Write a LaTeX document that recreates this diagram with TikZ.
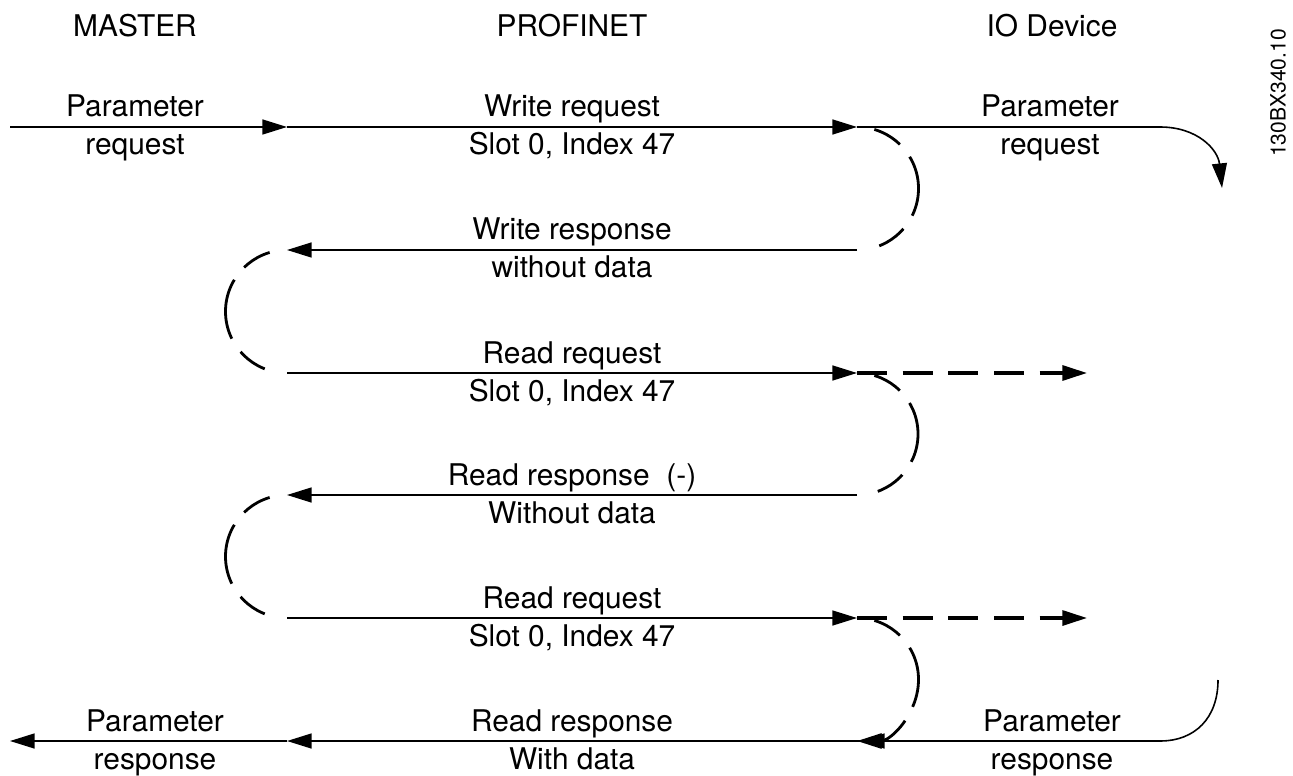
\documentclass[tikz,border=0pt]{standalone}
\usepackage{fontspec}
\setmainfont{TeX Gyre Heros}
\usetikzlibrary{arrows.meta}

\begin{document}
\begin{tikzpicture}[x=0.02cm, y=-0.02cm, >={Triangle[length=14pt,width=8.5pt]},
  msg/.style={line width=0.9pt, ->},
  turn/.style={line width=1.6pt, dash pattern=on 0pt off 10pt on 17pt off 9pt on 35pt off 9pt on 17pt off 10pt},
  fwd/.style={line width=1.8pt, dash pattern=on 17pt off 9pt, ->},
  txt/.style={font=\fontsize{17}{20}\selectfont, anchor=base, inner sep=0pt}]
\useasboundingbox (0,0) rectangle (1293,776);

\node[txt] (hm) at (135,37) {MASTER};
\node[txt] (hp) at (572,37) {PROFINET};
\node[txt] (hd) at (1052,37) {IO Device};
\node[font=\fontsize{12}{14}\selectfont, rotate=90, inner sep=0pt] (code) at (1278,93) {130BX340.10};

% end points of the messages
\coordinate (m1) at (10,127);  \coordinate (p1) at (287,127); \coordinate (d1) at (857,127);
\coordinate (io1) at (1222,188);
\coordinate (p2) at (287,250); \coordinate (d2) at (857,250);
\coordinate (p3) at (287,373); \coordinate (d3) at (857,373); \coordinate (x3) at (1087,373);
\coordinate (p4) at (287,495); \coordinate (d4) at (857,495);
\coordinate (p5) at (287,618); \coordinate (d5) at (857,618); \coordinate (x5) at (1087,618);
\coordinate (m6) at (10,741);  \coordinate (p6) at (287,741); \coordinate (d6) at (860,741);
\coordinate (io6) at (1218,680);

% parameter request
\draw[msg] (m1)--(p1);
\node[txt] (pr1) at (135,117) {Parameter};
\node[txt] (pr2) at (135,155) {request};
\draw[msg] (p1)--(d1);
\node[txt] (wr1) at (572,117) {Write request};
\node[txt] (wr2) at (572,155) {Slot 0, Index 47};
\draw[msg] (d1)--(1160,127) .. controls (1198,127) and (1218,150) .. (io1);
\node[txt] (ir1) at (1050,117) {Parameter};
\node[txt] (ir2) at (1050,155) {request};

\draw[turn] (d1) arc[start angle=-90, end angle=90, radius=61.5];
\draw[msg] (d2)--(p2);
\node[txt] (ws1) at (572,240) {Write response};
\node[txt] (ws2) at (572,278) {without data};
\draw[turn] (p2) arc[start angle=-90, end angle=-270, radius=61.5];

\draw[msg] (p3)--(d3);
\node[txt] (rr1) at (572,363) {Read request};
\node[txt] (rr2) at (572,401) {Slot 0, Index 47};
\draw[fwd] (d3)--(x3);
\draw[turn] (d3) arc[start angle=-90, end angle=90, radius=61];
\draw[msg] (d4)--(p4);
\node[txt] (rn1) at (572,485) {Read response\ \ (-)};
\node[txt] (rn2) at (572,523) {Without data};
\draw[turn] (p4) arc[start angle=-90, end angle=-270, radius=61.5];

\draw[msg] (p5)--(d5);
\node[txt] (rq1) at (572,608) {Read request};
\node[txt] (rq2) at (572,646) {Slot 0, Index 47};
\draw[fwd] (d5)--(x5);
\draw[turn, ->] (d5) arc[start angle=-90, end angle=90, radius=61.5];

% parameter response
\draw[msg] (io6) .. controls (1218,718) and (1195,741) .. (1160,741)--(d6);
\node[txt] (is1) at (1052,731) {Parameter};
\node[txt] (is2) at (1052,769) {response};
\draw[msg] (d6)--(p6);
\node[txt] (rd1) at (572,731) {Read response};
\node[txt] (rd2) at (572,769) {With data};
\draw[msg] (p6)--(m6);
\node[txt] (ps1) at (155,731) {Parameter};
\node[txt] (ps2) at (155,769) {response};
\end{tikzpicture}
\end{document}
